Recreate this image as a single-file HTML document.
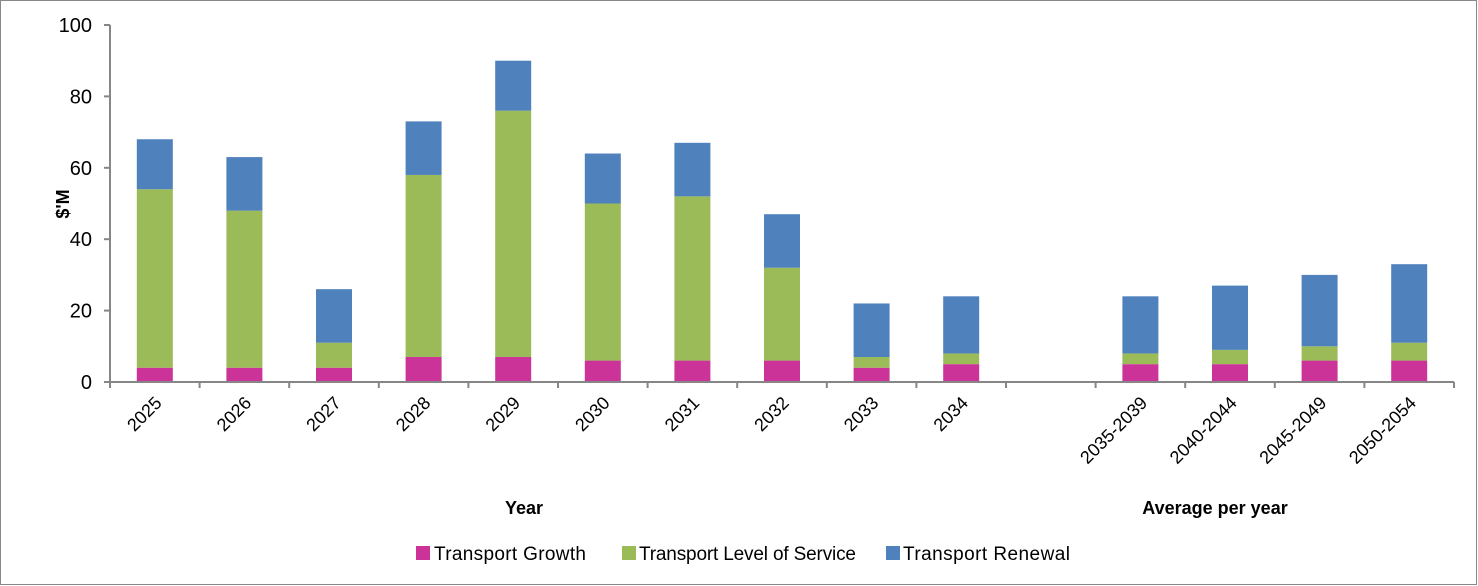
<!DOCTYPE html>
<html><head><meta charset="utf-8"><style>
body{margin:0;background:#fff;}
svg{display:block;font-family:"Liberation Sans",sans-serif;}
</style></head><body>
<svg id="chart" width="1478" height="586" xmlns="http://www.w3.org/2000/svg">
<rect x="0.5" y="0.5" width="1476" height="584" fill="#fff" stroke="#888"/>
<g id="grid"></g>
<g id="bars"></g>
<g id="axes"></g>
<text transform="translate(69,204) rotate(-90)" text-anchor="middle" font-size="18" font-weight="bold">$'M</text>
<text x="524" y="514" text-anchor="middle" font-size="18" font-weight="bold">Year</text>
<text x="1215" y="514" text-anchor="middle" font-size="18" font-weight="bold">Average per year</text>
<g>
<g><rect x="416" y="546" width="14" height="14" fill="#CC3399"/><text x="434" y="560" font-size="19" textLength="152">Transport Growth</text></g>
<g><rect x="622" y="546" width="14" height="14" fill="#9BBB59"/><text x="639" y="560" font-size="19" textLength="217">Transport Level of Service</text></g>
<g><rect x="886" y="546" width="14" height="14" fill="#4F81BD"/><text x="903" y="560" font-size="19" textLength="167">Transport Renewal</text></g>
</g>
</svg>
<script>
const categories=["2025","2026","2027","2028","2029","2030","2031","2032","2033","2034","","2035-2039","2040-2044","2045-2049","2050-2054"];
const growth=[4,4,4,7,7,6,6,6,4,5,null,5,5,6,6];
const levelOfService=[50,44,7,51,69,44,46,26,3,3,null,3,4,4,5];
const renewal=[14,15,15,15,14,14,15,15,15,16,null,16,18,20,22];
const yTicks=[0,20,40,60,80,100];
const NS="http://www.w3.org/2000/svg";
const x0=110,x1=1454,yB=382,yT=25,yMax=100;
const slot=(x1-x0)/categories.length;
const barW=36;
function xC(i){return x0+slot*(i+0.5);}
function yS(v){return yB-(v/yMax)*(yB-yT);}
function mk(tag,attrs,parent){const e=document.createElementNS(NS,tag);for(const k in attrs)e.setAttribute(k,attrs[k]);parent.appendChild(e);return e;}
const bars=document.getElementById('bars'),axes=document.getElementById('axes');
const series=[[growth,'#CC3399','growth'],[levelOfService,'#9BBB59','level-of-service'],[renewal,'#4F81BD','renewal']];
categories.forEach((c,i)=>{
  if(growth[i]==null)return;
  let base=0;
  series.forEach(([arr,col,nm])=>{
    const v=arr[i];
    const r=mk('rect',{x:xC(i)-barW/2,y:yS(base+v),width:barW,height:yS(base)-yS(base+v),fill:col},bars);
    
    
    base+=v;
  });
  const t=mk('text',{transform:`translate(${xC(i)+8},${yB+22}) rotate(-45)`,'text-anchor':'end','font-size':'18'},axes);
  t.textContent=c;
  
  
});
const ya=mk('line',{x1:x0,y1:yT,x2:x0,y2:yB,stroke:'#868686','stroke-width':2},axes);


const xa=mk('line',{x1:x0,y1:yB,x2:x1,y2:yB,stroke:'#868686','stroke-width':2},axes);


yTicks.forEach(v=>{
  mk('line',{x1:x0-6,y1:yS(v),x2:x0,y2:yS(v),stroke:'#868686','stroke-width':2},axes);
  const t=mk('text',{x:x0-18,y:yS(v)+7,'text-anchor':'end','font-size':'20'},axes);
  t.textContent=v;
  
  
});
for(let i=0;i<=categories.length;i++){
  mk('line',{x1:x0+slot*i,y1:yB,x2:x0+slot*i,y2:yB+6,stroke:'#868686','stroke-width':2},axes);
}
</script>
</body></html>
